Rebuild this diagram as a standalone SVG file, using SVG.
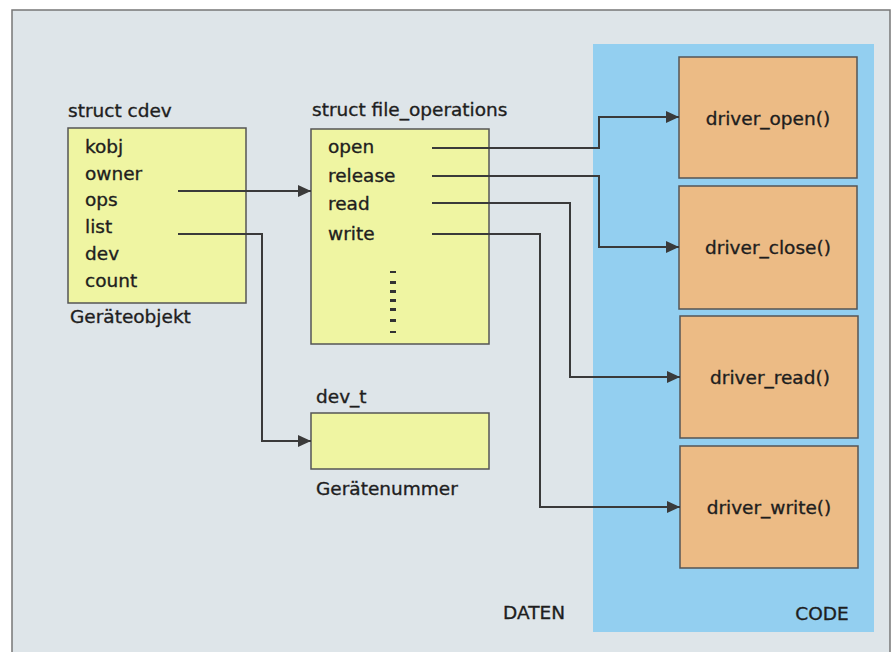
<svg xmlns="http://www.w3.org/2000/svg" width="894" height="652" viewBox="0 0 894 652">
  <style>
    text { font-family: "DejaVu Sans", "Liberation Sans", sans-serif; font-size: 18.5px; fill: #1e1e1e; stroke: #1e1e1e; stroke-width: 0.35; }
    .struct { fill: #eff5a2; stroke: #555; stroke-width: 1.5; }
    .func { fill: #ecbb85; stroke: #555; stroke-width: 1.5; }
    .mid { text-anchor: middle; }
    .link { fill: none; stroke: #3a3a3a; stroke-width: 2; marker-end: url(#arrow); }
  </style>
  <defs>
    <marker id="arrow" viewBox="0 0 13 12" refX="13" refY="6" markerWidth="13" markerHeight="12" markerUnits="userSpaceOnUse" orient="auto">
      <path d="M0,0 L13,6 L0,12 z" fill="#3a3a3a"/>
    </marker>
  </defs>

  <!-- frame and background -->
  <rect x="0" y="0" width="894" height="652" fill="#ffffff"/>
  <rect x="12" y="10" width="878" height="650" fill="#dee5e9" stroke="#777" stroke-width="1.5"/>

  <!-- code area -->
  <g id="code-area">
    <rect x="593" y="44" width="281" height="588" fill="#93cff0"/>
    <text x="822" y="620" class="mid">CODE</text>
  </g>
  <g id="data-label">
    <text x="534" y="619" class="mid">DATEN</text>
  </g>

  <!-- struct cdev -->
  <g id="cdev">
    <text x="68" y="117">struct cdev</text>
    <rect class="struct" x="68" y="128" width="178" height="175"/>
    <text x="85" y="153">kobj</text>
    <text x="85" y="180">owner</text>
    <text x="85" y="206">ops</text>
    <text x="85" y="233">list</text>
    <text x="85" y="260">dev</text>
    <text x="85" y="287">count</text>
    <text x="70" y="323">Geräteobjekt</text>
  </g>

  <!-- struct file_operations -->
  <g id="file-operations">
    <text x="312" y="116">struct file_operations</text>
    <rect class="struct" x="311" y="129" width="178" height="215"/>
    <text x="328" y="153">open</text>
    <text x="328" y="182">release</text>
    <text x="328" y="210">read</text>
    <text x="328" y="240">write</text>
    <g fill="#333">
      <rect x="390" y="271" width="6" height="2"/>
      <rect x="390" y="281" width="6" height="3"/>
      <rect x="390" y="290" width="6" height="3"/>
      <rect x="390" y="299" width="6" height="3"/>
      <rect x="390" y="308" width="6" height="3"/>
      <rect x="390" y="319" width="6" height="3"/>
      <rect x="390" y="331" width="6" height="2"/>
    </g>
  </g>

  <!-- dev_t -->
  <g id="dev-t">
    <text x="316" y="403">dev_t</text>
    <rect class="struct" x="311" y="413" width="178" height="56"/>
    <text x="316" y="495">Gerätenummer</text>
  </g>

  <!-- driver functions -->
  <g id="driver-open">
    <rect class="func" x="679" y="57" width="178" height="121"/>
    <text x="768" y="125" class="mid">driver_open()</text>
  </g>
  <g id="driver-close">
    <rect class="func" x="679" y="186" width="178" height="123"/>
    <text x="768" y="254" class="mid">driver_close()</text>
  </g>
  <g id="driver-read">
    <rect class="func" x="680" y="316" width="178" height="122"/>
    <text x="770" y="384" class="mid">driver_read()</text>
  </g>
  <g id="driver-write">
    <rect class="func" x="680" y="446" width="178" height="122"/>
    <text x="769" y="514" class="mid">driver_write()</text>
  </g>

  <!-- connectors -->
  <g id="connectors">
    <path class="link" d="M178,191 H311"/>
    <path class="link" d="M178,234 H262 V441 H311"/>
    <path class="link" d="M432,148 H599 V117 H679"/>
    <path class="link" d="M432,176 H599 V247 H679"/>
    <path class="link" d="M432,203 H570 V377 H680"/>
    <path class="link" d="M432,234 H540 V507 H680"/>
  </g>
</svg>
